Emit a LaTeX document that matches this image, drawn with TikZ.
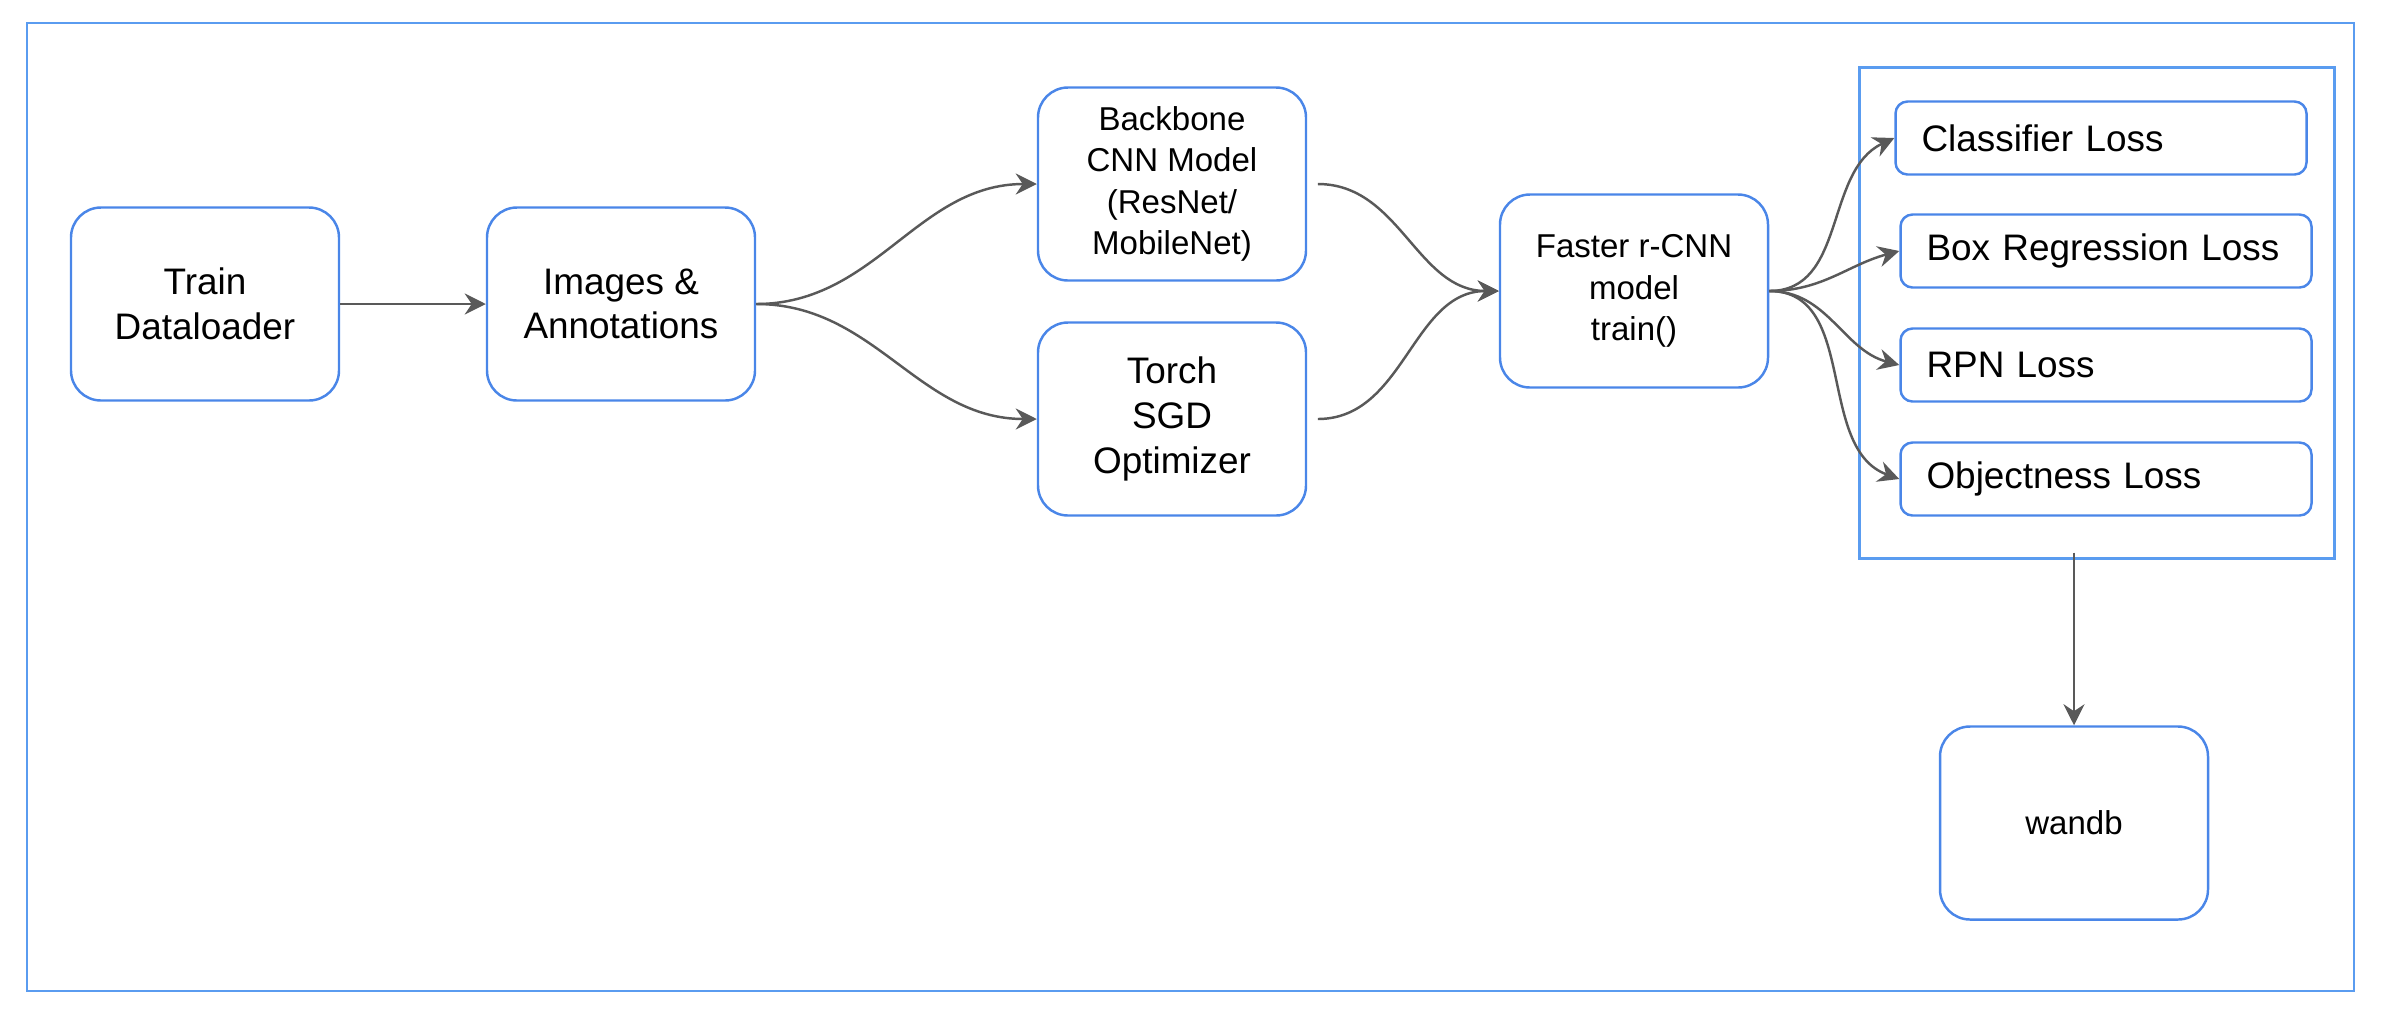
\documentclass[tikz,border=0pt]{standalone}
\usepackage{fontspec}
\setmainfont{Liberation Sans}
\usetikzlibrary{arrows.meta}

\definecolor{boxblue}{RGB}{74,134,232}
\definecolor{frameblue}{RGB}{90,156,240}
\definecolor{arrowgray}{RGB}{89,89,89}

\begin{document}
\begin{tikzpicture}
	\tikzset{every node/.style={draw=boxblue, line width=0.7pt, align=center},
		block/.style={rounded corners=0.3cm, minimum width=2.68cm, minimum height=1.93cm, font=\fontsize{10.5}{12.7}\selectfont},
		smallblock/.style={block, font=\fontsize{9.4}{11.8}\selectfont},
		lossbox/.style={rounded corners=0.12cm, text width=3.59cm, inner xsep=0.26cm, minimum height=0.73cm, align=left, font=\fontsize{10.5}{12.7}\selectfont},
		groupbox/.style={draw=frameblue, minimum width=4.75cm, minimum height=4.91cm},
		flow/.style={draw=arrowgray, line width=0.7pt, -{Stealth[length=6pt,width=6pt,inset=2pt]}}}

	\useasboundingbox (0,0) rectangle (23.84,-10.18);
	\draw [frameblue, line width=0.7pt] (0.27,-0.23) rectangle (23.54,-9.91);

	\node [block] (train) at (2.05,-3.04) 		{Train\\Dataloader};
	\node [block] (images) at (6.21,-3.04) 		{Images \&\\Annotations};
	\node [smallblock] (backbone) at (11.72,-1.84) 	{Backbone\\CNN Model\\(ResNet/\\MobileNet)};
	\node [block] (sgd) at (11.72,-4.19) 		{Torch\\SGD\\Optimizer};
	\node [smallblock] (faster) at (16.34,-2.91) 	{Faster r-CNN\\model\\train()};

	\node [groupbox] (losses) at (20.97,-3.13) 	{};
	\node [lossbox] (cls) at (21.01,-1.38) 		{Classifier Loss};
	\node [lossbox] (boxreg) at (21.06,-2.51) 	{Box Regression Loss};
	\node [lossbox] (rpn) at (21.06,-3.65) 		{RPN Loss};
	\node [lossbox] (obj) at (21.06,-4.79) 		{Objectness Loss};

	\node [smallblock] (wandb) at (20.74,-8.23) 	{wandb};

	\draw [flow] (train) -- (images);
	\draw [flow] (images.east) to [out=0, in=180] (backbone.west);
	\draw [flow] (images.east) to [out=0, in=180] (sgd.west);
	\draw [flow] ([xshift=3pt]backbone.east) to [out=0, in=180] (faster.west);
	\draw [flow] ([xshift=3pt]sgd.east) to [out=0, in=180] (faster.west);

	\draw [flow] (faster.east) to [out=0, in=205] (cls.west);
	\draw [flow] (faster.east) to [out=0, in=195] (boxreg.west);
	\draw [flow] (faster.east) to [out=0, in=165] (rpn.west);
	\draw [flow] (faster.east) to [out=0, in=160] (obj.west);

	\draw [flow] ([yshift=2pt]losses.south -| wandb.north) -- (wandb.north);
\end{tikzpicture}
\end{document}
